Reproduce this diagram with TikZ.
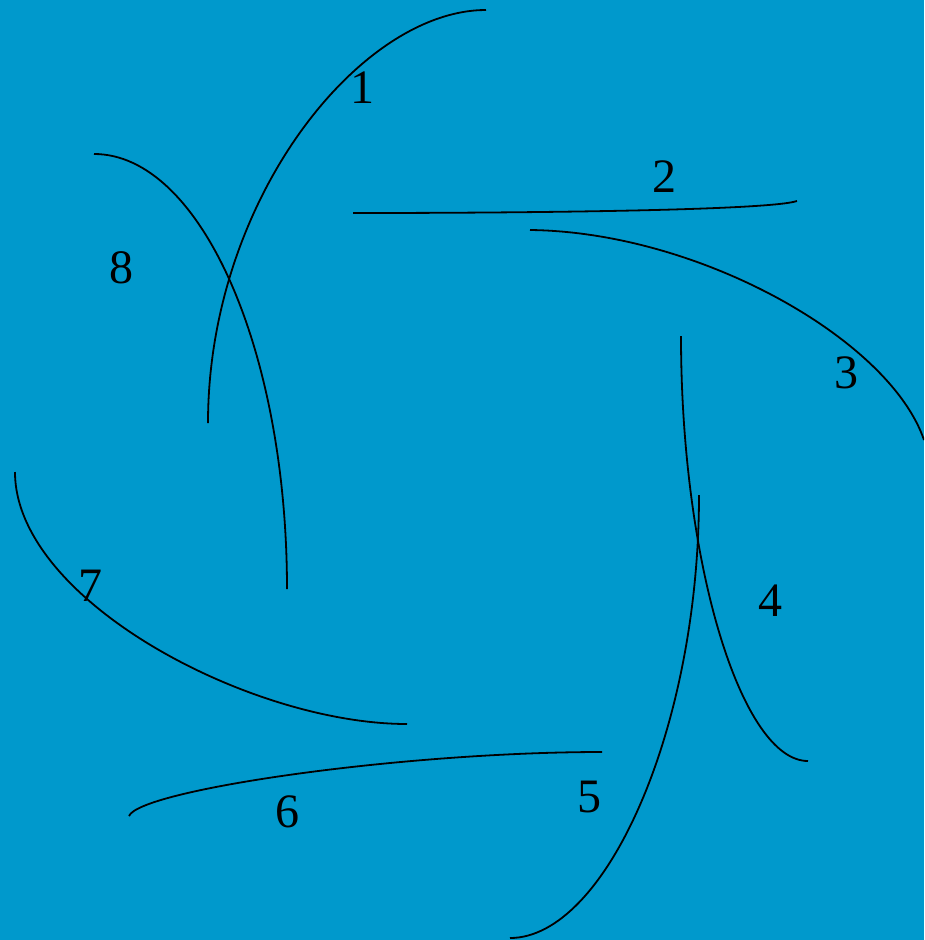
\documentclass[tikz,border=0pt]{standalone}
\usepackage{fontspec}
\setmainfont{Liberation Serif}
\definecolor{bg}{RGB}{0,153,204}
\begin{document}
\begin{tikzpicture}[x=1pt,y=-1pt,
  curve/.style={line width=1.8pt, draw=black},
  lbl/.style={font=\fontsize{48}{54}\selectfont, inner sep=0pt, text=black}]
\useasboundingbox (0,0) rectangle (924,940);
\fill[bg] (0,0) rectangle (924,940);
\clip (0,0) rectangle (924,940);
% curves
\draw[curve] (208,423) .. controls (208,200) and (360,10) .. (486,10);
\draw[curve] (353,213) .. controls (550,213) and (770,210) .. (797,201);
\draw[curve] (530,230) .. controls (700,232) and (890,340) .. (924,440);
\draw[curve] (681,336) .. controls (681,565) and (742,761) .. (808,761);
\draw[curve] (699,495) .. controls (699,730) and (605,938) .. (510,938);
\draw[curve] (602,752) .. controls (400,752) and (140,790) .. (129,816);
\draw[curve] (15,472) .. controls (15,600) and (250,724) .. (407,724);
\draw[curve] (94,154) .. controls (200,154) and (287,349) .. (287,589);
% labels
\node[lbl] (l1) at (362,88) {1};
\node[lbl] (l2) at (664,177) {2};
\node[lbl] (l3) at (846,373) {3};
\node[lbl] (l4) at (770,601) {4};
\node[lbl] (l5) at (589,797) {5};
\node[lbl] (l6) at (287,812) {6};
\node[lbl] (l7) at (90,586) {7};
\node[lbl] (l8) at (121,268) {8};
\end{tikzpicture}
\end{document}
